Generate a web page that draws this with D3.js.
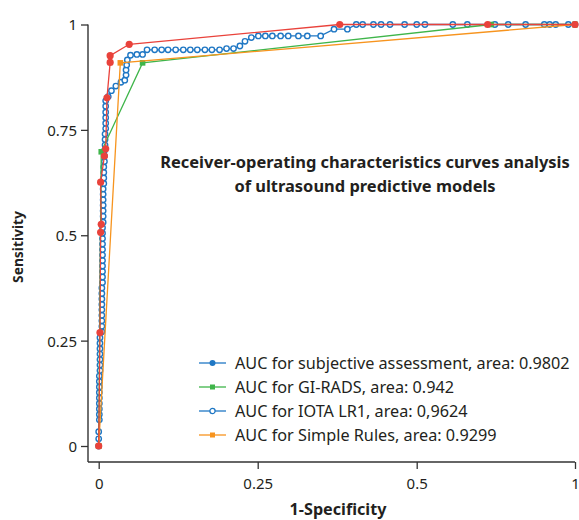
<!DOCTYPE html>
<html>
<head>
<meta charset="utf-8">
<script src="https://cdn.jsdelivr.net/npm/d3@7"></script>
<style>
  html, body { margin: 0; padding: 0; background: #fff; }
  svg { display: block; font-family: "Noto Sans", "Open Sans", sans-serif; }
</style>
</head>
<body>
<svg id="chart" width="579" height="520"></svg>
<script>
// ---------------- data ----------------
const xTicks = [0, 0.25, 0.5, 1];
const xTickLabels = ["0", "0.25", "0.5", "1"];
const yTicks = [0, 0.25, 0.5, 0.75, 1];
const yTickLabels = ["0", "0.25", "0.5", "0.75", "1"];

const titleLines = ["Receiver-operating characteristics curves analysis", "of ultrasound predictive models"];
const xLabel = "1-Specificity";
const yLabel = "Sensitivity";

const legendLabels = [
  "AUC for subjective assessment, area: 0.9802",
  "AUC for GI-RADS, area: 0.942",
  "AUC for IOTA LR1, area: 0,9624",
  "AUC for Simple Rules, area: 0.9299"
];

// [1-specificity, sensitivity]
const subjective = [[0,0],[0.002,0.269],[0.003,0.507],[0.004,0.526],[0.003,0.626],[0.009,0.688],[0.011,0.705],[0.013,0.826],[0.018,0.910],[0.018,0.926],[0.048,0.953],[0.379,1],[0.724,1],[1,1]];
const giRads = [[0,0],[0.004,0.698],[0.069,0.909],[0.735,1],[1,1]];
const simpleRules = [[0,0],[0.034,0.909],[1,1]];
const iotaLR1 = [
  [0,0],[0.000,0.017],[0.000,0.034],[0.001,0.062],[0.001,0.075],[0.001,0.088],[0.001,0.101],[0.001,0.114],[0.001,0.127],[0.001,0.140],[0.001,0.153],[0.001,0.166],[0.002,0.179],[0.002,0.192],[0.002,0.205],[0.002,0.218],[0.002,0.231],[0.002,0.244],[0.002,0.257],
  [0.005,0.271],[0.005,0.284],[0.005,0.297],[0.005,0.310],[0.005,0.323],[0.005,0.336],[0.005,0.349],[0.005,0.362],[0.005,0.375],[0.006,0.388],[0.006,0.401],[0.006,0.414],[0.006,0.427],[0.006,0.440],[0.006,0.453],[0.006,0.466],[0.006,0.479],[0.006,0.492],[0.006,0.505],[0.006,0.518],[0.007,0.531],[0.007,0.545],[0.007,0.558],[0.007,0.571],[0.007,0.584],[0.007,0.597],[0.007,0.610],[0.008,0.623],[0.008,0.636],[0.008,0.649],[0.008,0.662],[0.009,0.675],[0.009,0.688],[0.009,0.701],[0.010,0.714],[0.010,0.727],[0.010,0.740],[0.011,0.753],[0.011,0.766],[0.011,0.779],[0.011,0.792],[0.011,0.806],[0.011,0.819],
  [0.015,0.829],[0.020,0.843],[0.027,0.854],[0.035,0.863],[0.041,0.868],[0.043,0.880],[0.043,0.892],[0.044,0.904],[0.045,0.916],[0.050,0.927],[0.060,0.929],[0.069,0.929],[0.076,0.940],
  [0.088,0.940],[0.099,0.940],[0.109,0.940],[0.121,0.940],[0.133,0.940],[0.144,0.940],[0.155,0.940],[0.167,0.940],[0.178,0.940],[0.190,0.940],[0.201,0.943],[0.212,0.943],[0.222,0.949],[0.230,0.960],[0.240,0.969],[0.251,0.973],
  [0.262,0.973],[0.273,0.973],[0.286,0.973],[0.298,0.973],[0.314,0.973],[0.328,0.973],[0.349,0.973],[0.370,0.989],[0.391,0.989],
  [0.405,1],[0.415,1],[0.432,1],[0.444,1],[0.458,1],[0.481,1],[0.500,1],[0.526,1],[0.614,1],[0.660,1],[0.747,1],[0.789,1],[0.844,1],[0.903,1],[0.920,1],[0.939,1],[0.979,1],[1,1]
];

// ---------------- styles ----------------
const RED = "#e9423b", BLUE = "#1f77c4", GREEN = "#3fb54a", ORANGE = "#f7941e", AXIS = "#333333", TEXT = "#231f20";

const svg = d3.select("#chart");

// scale a text selection's font so its first element has the given width
function fitWidth(sel, target, base) {
  const w = sel.node().getComputedTextLength();
  const fs = w > 0 ? base * target / w : base;
  sel.style("font-size", fs + "px");
  return fs;
}

// the printed axis spaces its four labels evenly
const x = d3.scaleLinear().domain(xTicks).range([98.7, 257.7, 416.7, 575]);
const y = d3.scaleLinear().domain([0, 1]).range([446, 24.5]);

const axisX0 = 88, axisY0 = 462;

// axes
const gx = svg.append("g").attr("transform", `translate(0,${axisY0})`)
  .call(d3.axisBottom(x).tickValues(xTicks).tickFormat((d, i) => xTickLabels[i]).tickSize(7).tickSizeOuter(0));
gx.select(".domain").remove();
const gy = svg.append("g").attr("transform", `translate(${axisX0},0)`)
  .call(d3.axisLeft(y).tickValues(yTicks).tickFormat((d, i) => yTickLabels[i]).tickSize(7).tickSizeOuter(0));
gy.select(".domain").remove();

[gx, gy].forEach(g => {
  g.selectAll("line").attr("stroke", AXIS).attr("stroke-width", 1.3);
  g.selectAll("text").attr("fill", TEXT).style("font-size", "15px")
    .style("font-family", "'Noto Sans', sans-serif");
});
gx.selectAll("text").attr("dy", "1.1em");
gy.selectAll("text").attr("dy", "0.36em").attr("x", -11);

svg.append("line").attr("x1", axisX0).attr("x2", axisX0).attr("y1", y(1)).attr("y2", axisY0)
  .attr("stroke", AXIS).attr("stroke-width", 1.4);
svg.append("line").attr("x1", axisX0).attr("x2", x(1)).attr("y1", axisY0).attr("y2", axisY0)
  .attr("stroke", AXIS).attr("stroke-width", 1.4);

// axis titles
const xl = svg.append("text").attr("x", 338).attr("y", 515).attr("text-anchor", "middle")
  .style("font-size", "15px").style("font-weight", "bold").attr("fill", TEXT).text(xLabel);
fitWidth(xl, 97, 15);
const yl = svg.append("text").attr("transform", "translate(23,247) rotate(-90)").attr("text-anchor", "middle")
  .style("font-size", "15px").style("font-weight", "bold").attr("fill", TEXT).text(yLabel);
fitWidth(yl, 72, 15);

// chart title
const tl = svg.append("g").selectAll("text").data(titleLines).join("text")
  .attr("x", 365).attr("y", (d, i) => 168 + i * 23.5).attr("text-anchor", "middle")
  .style("font-size", "16px").style("font-weight", "bold").attr("fill", TEXT).text(d => d);
fitWidth(tl, 410, 16);

const line = d3.line().x(d => x(d[0])).y(d => y(d[1]));
const plot = svg.append("g");

function drawLine(data, color) {
  plot.append("path").datum(data).attr("d", line).attr("fill", "none")
    .attr("stroke", color).attr("stroke-width", 1.3);
}

// IOTA LR1 (open circles)
drawLine(iotaLR1, BLUE);
plot.append("g").selectAll("circle").data(iotaLR1).join("circle")
  .attr("cx", d => x(d[0])).attr("cy", d => y(d[1])).attr("r", 2.7)
  .attr("fill", "#fff").attr("stroke", BLUE).attr("stroke-width", 1.4);

// GI-RADS
drawLine(giRads, GREEN);
plot.append("g").selectAll("rect").data(giRads).join("rect")
  .attr("x", d => x(d[0]) - 2.8).attr("y", d => y(d[1]) - 2.8).attr("width", 5.6).attr("height", 5.6)
  .attr("fill", GREEN);

// Simple Rules
drawLine(simpleRules, ORANGE);
plot.append("g").selectAll("rect").data(simpleRules).join("rect")
  .attr("x", d => x(d[0]) - 2.8).attr("y", d => y(d[1]) - 2.8).attr("width", 5.6).attr("height", 5.6)
  .attr("fill", ORANGE);

// Subjective assessment
drawLine(subjective, RED);
plot.append("g").selectAll("circle").data(subjective).join("circle")
  .attr("cx", d => x(d[0])).attr("cy", d => y(d[1])).attr("r", 3.6)
  .attr("fill", RED);

// legend
const legendStyle = [
  { color: BLUE, marker: "dot" },
  { color: GREEN, marker: "square" },
  { color: BLUE, marker: "open" },
  { color: ORANGE, marker: "square" }
];
const lg = svg.append("g").attr("transform", "translate(199,363)");
legendLabels.forEach((lab, i) => {
  const g = lg.append("g").attr("transform", `translate(0,${i * 24})`);
  const st = legendStyle[i];
  g.append("line").attr("x1", 0).attr("x2", 27).attr("stroke", st.color).attr("stroke-width", 1.3);
  if (st.marker === "dot") g.append("circle").attr("cx", 13.5).attr("r", 3).attr("fill", st.color);
  if (st.marker === "open") g.append("circle").attr("cx", 13.5).attr("r", 2.6).attr("fill", "#fff").attr("stroke", st.color).attr("stroke-width", 1.3);
  if (st.marker === "square") g.append("rect").attr("x", 11).attr("y", -2.5).attr("width", 5).attr("height", 5).attr("fill", st.color);
  g.append("text").attr("class", "lgtext").attr("x", 36).attr("dy", "0.36em").style("font-size", "15px").attr("fill", TEXT).text(lab);
});
fitWidth(lg.selectAll(".lgtext"), 335, 15);
</script>
</body>
</html>
